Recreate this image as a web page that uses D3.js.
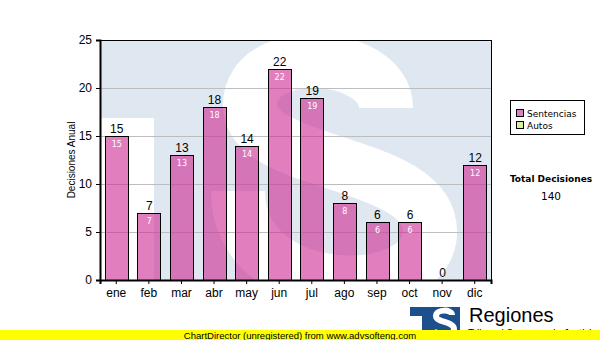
<!DOCTYPE html>
<html><head><meta charset="utf-8">
<script src="https://cdn.jsdelivr.net/npm/d3@7"></script>
<style>body{margin:0;background:#fff}svg{display:block}</style>
</head><body>
<script>
const months = ["ene","feb","mar","abr","may","jun","jul","ago","sep","oct","nov","dic"];
const sentencias = [15,7,13,18,14,22,19,8,6,6,0,12];
const yTicks = [0,5,10,15,20,25];
const legendItems = ["Sentencias","Autos"];
const legendColors = ["#dd80bf","#d8f0a0"];
const totalLabel = "Total Decisiones";
const totalValue = d3.sum(sentencias);

const W=600,H=340;
const svg=d3.select("body").append("svg").attr("width",W).attr("height",H);
const L=100,R=491,T=40,B=280;
const x=d3.scaleBand().domain(months).range([L,R]).paddingInner(0.3).paddingOuter(0.15);
const y=d3.scaleLinear().domain([0,25]).range([B,T]);

// plot background with watermark
svg.append("clipPath").attr("id","pc").append("rect").attr("x",L).attr("y",T).attr("width",R-L).attr("height",B-T);
const wm=svg.append("g").attr("clip-path","url(#pc)");
wm.append("rect").attr("x",L).attr("y",T).attr("width",R-L).attr("height",B-T).attr("fill","#dfe8f1");
wm.append("rect").attr("x",L).attr("y",118).attr("width",54).attr("height",B-118).attr("fill","#fff");
wm.append("path").attr("d","M386,108 C386,50 250,42 250,105 C250,168 430,158 430,232 C430,305 238,305 238,191")
  .attr("fill","none").attr("stroke","#fff").attr("stroke-width",54);

// grid
svg.append("g").selectAll("line").data(yTicks.filter(d=>d>0&&d<25)).join("line")
  .attr("x1",L).attr("x2",R).attr("y1",d=>y(d)+0.5).attr("y2",d=>y(d)+0.5)
  .attr("stroke","#bdbdbd").attr("stroke-width",1);

// bars
svg.append("g").selectAll("rect").data(months.map((m,i)=>({m,v:sentencias[i]})).filter(d=>d.v>0)).join("rect")
  .attr("x",d=>Math.round(x(d.m))+0.5).attr("y",d=>Math.round(y(d.v))+0.5)
  .attr("width",Math.round(x.bandwidth())).attr("height",d=>B-Math.round(y(d.v)))
  .attr("fill","rgba(205,40,145,0.6)").attr("stroke","#000").attr("stroke-width",1);

// frame
svg.append("rect").attr("x",L+0.5).attr("y",T+0.5).attr("width",R-L).attr("height",B-T)
  .attr("fill","none").attr("stroke","#000").attr("stroke-width",1);

// axes
const ya=svg.append("g").attr("transform",`translate(${L},0)`)
  .call(d3.axisLeft(y).tickValues(yTicks).tickSize(4).tickFormat(d3.format("d")));
ya.select(".domain").attr("stroke-width",2);
ya.selectAll("text").attr("font-family","Liberation Sans, Arial").attr("font-size",12).attr("fill","#000").attr("dx",-1);
const xa=svg.append("g").attr("transform",`translate(0,${B})`)
  .call(d3.axisBottom(x).tickSize(4));
xa.select(".domain").attr("stroke-width",2);
xa.selectAll("text").attr("font-family","Liberation Sans, Arial").attr("font-size",12).attr("fill","#000").attr("dy","0.85em");

// value labels
svg.append("g").selectAll("text").data(months.map((m,i)=>({m,v:sentencias[i]}))).join("text")
  .attr("x",d=>x(d.m)+x.bandwidth()/2+0.5).attr("y",d=>y(d.v)-3)
  .attr("text-anchor","middle").attr("font-family","Liberation Sans, Arial").attr("font-size",12).attr("fill","#000")
  .text(d=>d.v);
svg.append("g").selectAll("text").data(months.map((m,i)=>({m,v:sentencias[i]})).filter(d=>d.v>0)).join("text")
  .attr("x",d=>x(d.m)+x.bandwidth()/2+0.5).attr("y",d=>y(d.v)+11)
  .attr("text-anchor","middle").attr("font-family","DejaVu Sans, Verdana").attr("font-size",8).attr("fill","#fff")
  .text(d=>d.v);

// y title
svg.append("text").attr("transform","translate(75,160) rotate(-90)").attr("text-anchor","middle")
  .attr("font-family","Liberation Sans, Arial").attr("font-size",10).attr("fill","#000").text("Decisiones Anual");

// legend
svg.append("rect").attr("x",510.5).attr("y",100.5).attr("width",74).attr("height",34).attr("fill","#fff").attr("stroke","#000");
const lg=svg.append("g").selectAll("g").data(legendItems).join("g").attr("transform",(d,i)=>`translate(516,${109+i*12})`);
lg.append("rect").attr("x",0.5).attr("y",0.5).attr("width",7).attr("height",7).attr("fill",(d,i)=>legendColors[i]).attr("stroke","#000");
lg.append("text").attr("x",11).attr("y",7.5).attr("font-family","DejaVu Sans, Verdana").attr("font-size",9).attr("fill","#000").text(d=>d);

svg.append("text").attr("x",551).attr("y",182).attr("text-anchor","middle").attr("font-family","DejaVu Sans, Verdana")
  .attr("font-weight","bold").attr("font-size",9).attr("fill","#000").text(totalLabel);
svg.append("text").attr("x",551).attr("y",200).attr("text-anchor","middle").attr("font-family","DejaVu Sans, Verdana")
  .attr("font-size",10.5).attr("fill","#000").text(totalValue);

// logo (graphic mark)
const lgo=svg.append("g");
lgo.append("rect").attr("x",410).attr("y",307).attr("width",50).attr("height",33).attr("fill","#1d4f8f");
lgo.append("rect").attr("x",410).attr("y",316).attr("width",12).attr("height",24).attr("fill","#fff");
lgo.append("path").attr("d","M452,315 C452,309 436,309 436,316 C436,323 454,321 454,329 C454,337 436,337 434,330")
  .attr("fill","none").attr("stroke","#fff").attr("stroke-width",6);
lgo.append("text").attr("x",469).attr("y",322).attr("font-family","Liberation Sans, Arial").attr("font-size",20).attr("fill","#000").text("Regiones");
lgo.append("text").attr("x",468).attr("y",337).attr("font-family","Liberation Sans, Arial").attr("font-size",10).attr("fill","#000").text("Tribunal Supremo de Justicia");

// banner
svg.append("rect").attr("x",0).attr("y",330).attr("width",W).attr("height",10).attr("fill","#ffff00");
svg.append("text").attr("x",300).attr("y",338.5).attr("text-anchor","middle").attr("font-family","Liberation Sans, Arial")
  .attr("font-size",9.5).attr("fill","#000").text("ChartDirector (unregistered) from www.advsofteng.com");
</script>
</body></html>
